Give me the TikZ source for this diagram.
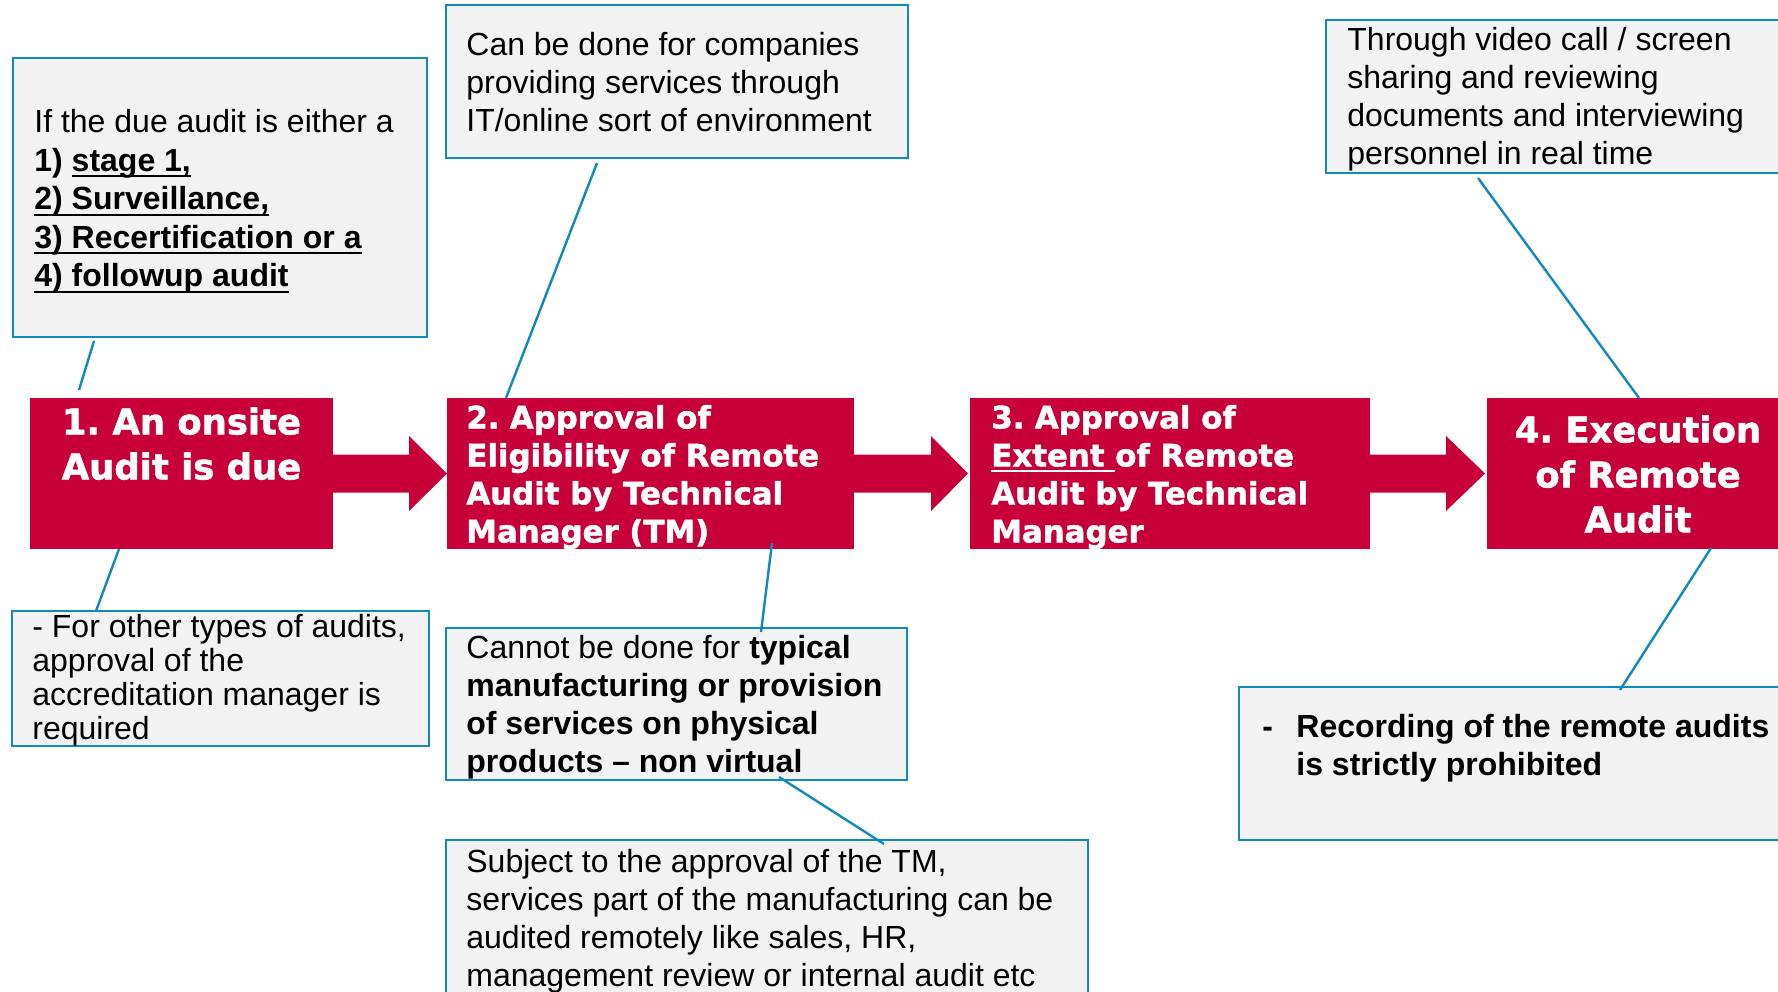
\documentclass[tikz,border=0pt]{standalone}
\usepackage{fontspec}
\setmainfont{Liberation Sans}
\newfontfamily\heavyfont{DejaVu Sans}[BoldFeatures={FakeBold=1.6}]
\newsavebox{\myulbox}
\newcommand{\myul}[1]{\sbox{\myulbox}{#1}\rlap{\rule[-3pt]{\wd\myulbox}{1pt}}\usebox{\myulbox}}
\definecolor{redfill}{RGB}{200,0,58}
\definecolor{bluel}{RGB}{16,138,186}
\definecolor{grayfill}{RGB}{242,242,242}
\begin{document}
\begin{tikzpicture}[x=0.5pt,y=-0.5pt,
  gbox/.style={draw=bluel, line width=1.4pt, fill=grayfill, inner sep=0pt, outer sep=0pt, anchor=north west},
  rbox/.style={fill=redfill, draw=none, inner sep=0pt, outer sep=0pt, anchor=north west},
  txt/.style={inner sep=0pt, anchor=north west, align=left, text=black, font=\fontsize{16}{19}\selectfont},
  txtd/.style={txt, font=\fontsize{16}{17}\selectfont},
  rtxtbig/.style={inner sep=0pt, anchor=north, align=center, text=white, font=\heavyfont\bfseries\fontsize{17.7}{22.5}\selectfont},
  rtxt/.style={inner sep=0pt, anchor=north west, align=left, text=white, font=\heavyfont\bfseries\fontsize{15.4}{19}\selectfont},
  conn/.style={draw=bluel, line width=1.2pt},
  blockarrow/.style={fill=redfill, draw=none}
]
\useasboundingbox (0,0) rectangle (1778,991);
\clip (0,0) rectangle (1778,991);
\fill[white] (0,0) rectangle (1778,991);

% grey note boxes
\node[gbox, minimum width=207pt, minimum height=139.5pt] (A) at (13,58) {};
\node[gbox, minimum width=231pt, minimum height=76.5pt] (B) at (446,5) {};
\node[gbox, minimum width=240pt, minimum height=76.5pt] (C) at (1326,20) {};
\node[gbox, minimum width=208.5pt, minimum height=67.5pt] (D) at (12,611) {};
\node[gbox, minimum width=230.5pt, minimum height=76pt] (E) at (446,628) {};
\node[gbox, minimum width=285pt, minimum height=76.5pt] (F) at (1239,687) {};
\node[gbox, minimum width=321pt, minimum height=100pt] (G) at (446,840) {};

% red step boxes
\node[rbox, minimum width=151.5pt, minimum height=75.5pt] (R1) at (30,398) {};
\node[rbox, minimum width=203.5pt, minimum height=75.5pt] (R2) at (447,398) {};
\node[rbox, minimum width=200pt, minimum height=75.5pt] (R3) at (970,398) {};
\node[rbox, minimum width=151pt, minimum height=75.5pt] (R4) at (1487,398) {};

% block arrows
\fill[blockarrow] ([shift={(0,-19)}]R1.east) -- ++(76,0) -- ++(0,-18.5) -- (R2.west)
  -- ([shift={(76,37.5)}]R1.east) -- ++(0,-18.5) -- ([shift={(0,19)}]R1.east) -- cycle;
\fill[blockarrow] ([shift={(0,-19)}]R2.east) -- ++(77,0) -- ++(0,-18.5) -- ([xshift=-1pt]R3.west)
  -- ([shift={(77,37.5)}]R2.east) -- ++(0,-18.5) -- ([shift={(0,19)}]R2.east) -- cycle;
\fill[blockarrow] ([shift={(0,-19)}]R3.east) -- ++(76,0) -- ++(0,-18.5) -- ([xshift=-1pt]R4.west)
  -- ([shift={(76,37.5)}]R3.east) -- ++(0,-18.5) -- ([shift={(0,19)}]R3.east) -- cycle;

% red box texts
\node[rtxtbig] (R1t) at (181.5,402.5) {\strut 1.\hspace{-2pt} An onsite\\Audit is due};
\node[rtxt] (R2t) at (466,401.4) {\strut 2.\hspace{-2pt} Approval of\\Eligibility of Remote\\Audit by Technical\\Manager (TM)};
\node[rtxt] (R3t) at (991,401.4) {\strut 3.\hspace{-2pt} Approval of\\\myul{Extent\ }of Remote\\Audit by Technical\\Manager};
\node[rtxtbig] (R4t) at (1638,410.5) {\strut 4.\hspace{-2pt} Execution\\of Remote\\Audit};

% note texts
\node[txt] (At) at (34,105.4) {\strut If the due audit is either a\\[0.3pt]
  \textbf{1) \myul{stage 1,}}\\[0.3pt]
  \textbf{\myul{2) Surveillance,}}\\[0.3pt]
  \textbf{\myul{3) Recertification or a}}\\[0.3pt]
  \textbf{\myul{4) followup audit}}};
\node[txt] (Bt) at (466,28.4) {\strut Can be done for companies\\providing services through\\IT/online sort of environment};
\node[txt] (Ct) at (1347,23.4) {\strut Through video call / screen\\sharing and reviewing\\documents and interviewing\\personnel in real time};
\node[txtd] (Dt) at (32,613.2) {\strut - For other types of audits,\\approval of the\\accreditation manager is\\required};
\node[txt] (Et) at (466,631.4) {\strut Cannot be done for \textbf{typical}\\
  \textbf{manufacturing or provision}\\
  \textbf{of services on physical}\\
  \textbf{products -- non virtual}};
\node[txt, font=\bfseries\fontsize{16}{19}\selectfont] (Ft) at (1262,710.4) {\strut\makebox[17pt][l]{-}Recording of the remote audits\\\hspace*{17pt}is strictly prohibited};
\node[txt] (Gt) at (466,845.4) {\strut Subject to the approval of the TM,\\services part of the manufacturing can be\\audited remotely like sales, HR,\\management review or internal audit etc};

% connectors
\draw[conn] ([shift={(81,4)}]A.south west) -- ([shift={(49,-8)}]R1.north west);
\draw[conn] ([shift={(151,5)}]B.south west) -- ([shift={(59,0)}]R2.north west);
\draw[conn] ([shift={(152,5)}]C.south west) -- ([shift={(152,0)}]R4.north west);
\draw[conn] ([shift={(89,0)}]R1.south west) -- ([shift={(84,0)}]D.north west);
\draw[conn] ([shift={(325,-6)}]R2.south west) -- ([shift={(315,4)}]E.north west);
\draw[conn] ([shift={(333,-3)}]E.south west) -- ([shift={(438,4)}]G.north west);
\draw[conn] ([shift={(224,-1)}]R4.south west) -- ([shift={(381,3)}]F.north west);
\end{tikzpicture}
\end{document}
